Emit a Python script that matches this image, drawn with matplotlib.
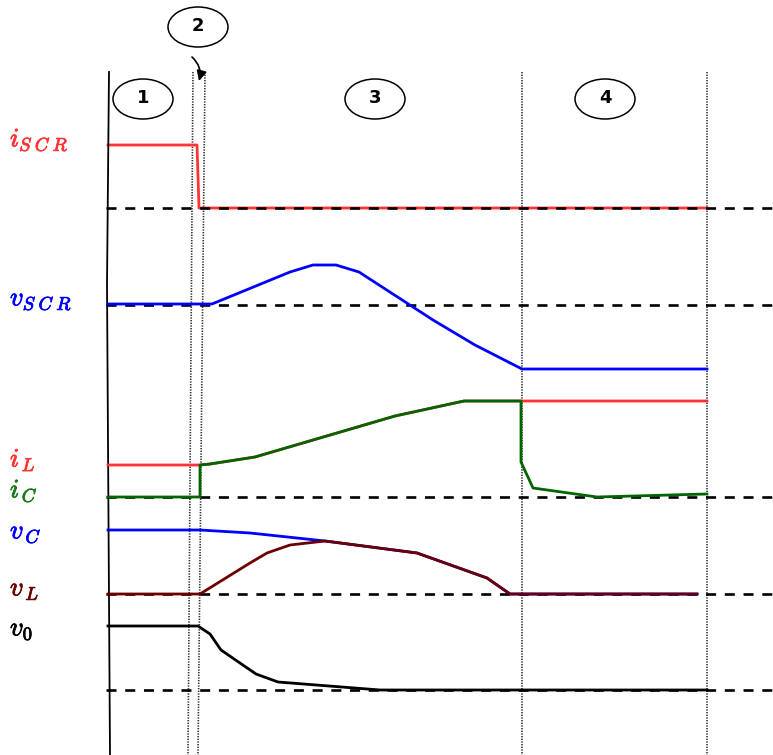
import matplotlib
matplotlib.use("Agg")
import matplotlib.pyplot as plt
import matplotlib.patheffects as pe
from matplotlib.patches import Ellipse, FancyArrowPatch

plt.rcParams['mathtext.fontset'] = 'cm'

# ---- data (chart units: x = time axis position, y = signal level, downwards) ----
iscr_t = [108, 197, 199, 707]
iscr_v = [145, 145, 208, 208]

vscr_t = [108, 212, 290, 313, 336, 359, 433, 475, 522, 707]
vscr_v = [304, 304, 272, 265, 265, 272, 320, 345, 369, 369]

iL_t = [108, 200, 210, 255, 395, 464, 521, 707]
iL_v = [465, 465, 464, 457, 416, 401, 401, 401]

iC_t = [108, 200, 200, 210, 255, 395, 464, 521, 521, 533, 597, 707]
iC_v = [497, 497, 465, 464, 457, 416, 401, 401, 462, 488, 497, 494]

vC_t = [108, 200, 250, 325, 417, 487, 510, 697]
vC_v = [530, 530, 533, 541, 553, 578, 594, 594]

vL_t = [108, 200, 250, 267, 290, 325, 417, 487, 510, 697]
vL_v = [594, 594, 563, 553, 545, 541, 553, 578, 594, 594]

v0_t = [108, 198, 210, 221, 256, 278, 380, 707]
v0_v = [626, 626, 634, 650, 674, 682, 690, 690]

baselines = [208, 305, 497, 594, 690]

labels = [r'$i_{S\;C\;R}$', r'$v_{S\;C\;R}$', r'$i_{\,L}$',
          r'$i_{\,C}$', r'$v_{\,C}$', r'$v_{\,L}$', r'$v_{0}$']
label_y = [140, 299, 460, 491, 532, 589, 629]
label_colors = ['#ff3333', '#0000ff', '#ff3333', '#1a7a1a', '#0000ff', '#6b0000', '#000000']

stage_names = ['1', '2', '3', '4']
stage_x = [143, 198, 375, 605]
stage_y = [99, 27, 99, 99]

# ---- figure ----
fig = plt.figure(figsize=(7.73, 7.55), dpi=100)
ax = fig.add_axes([0, 0, 1, 1])
ax.set_xlim(0, 773)
ax.set_ylim(755, 0)
ax.axis('off')

# vertical time axis
ax.plot([109, 107, 110], [72, 285, 755], color='black', lw=1.3, zorder=3)

# dotted phase boundaries
dot_style = dict(color='#333333', lw=1.2, ls=(0, (0.8, 0.8)), zorder=1)
ax.plot([193, 188], [72, 755], **dot_style)
ax.plot([205, 198], [72, 755], **dot_style)
ax.plot([522, 522], [72, 755], **dot_style)
ax.plot([707, 707], [72, 755], **dot_style)

# baselines
for yb in baselines:
    ax.plot([106, 773], [yb, yb], color='black', lw=1.9, ls=(0, (3.8, 3.3)), zorder=3)

lw = 2.0
ax.plot(iscr_t, iscr_v, color='#ff3333', lw=lw, zorder=2)
ax.plot(vscr_t, vscr_v, color='#0000ff', lw=lw, zorder=4)
ax.plot(iL_t, iL_v, color='#ff3333', lw=lw, zorder=4)
ax.plot(iC_t, iC_v, color='#006400', lw=lw, zorder=5)
ax.plot(vC_t, vC_v, color='#0000ff', lw=lw, zorder=4)
ax.plot(vL_t, vL_v, color='#6b0000', lw=lw, zorder=5)
ax.plot(v0_t, v0_v, color='black', lw=lw, zorder=4)

for lab, yy, cc in zip(labels, label_y, label_colors):
    ax.text(10, yy, lab, color=cc, fontsize=19, ha='left', va='center',
            path_effects=[pe.withStroke(linewidth=0.6, foreground=cc)])

for name, xx, yy in zip(stage_names, stage_x, stage_y):
    ax.add_patch(Ellipse((xx, yy), 60, 40, fill=False, ec='black', lw=1.1))
    ax.text(xx, yy - 1, name, fontsize=13, fontweight='bold', ha='center', va='center',
            family='DejaVu Sans')

arrow = FancyArrowPatch((192, 57), (199, 81), connectionstyle='arc3,rad=-0.3',
                        arrowstyle='-|>', mutation_scale=15, color='black', lw=1.2,
                        shrinkA=0, shrinkB=0)
ax.add_patch(arrow)

fig.savefig('out.png', dpi=100)
